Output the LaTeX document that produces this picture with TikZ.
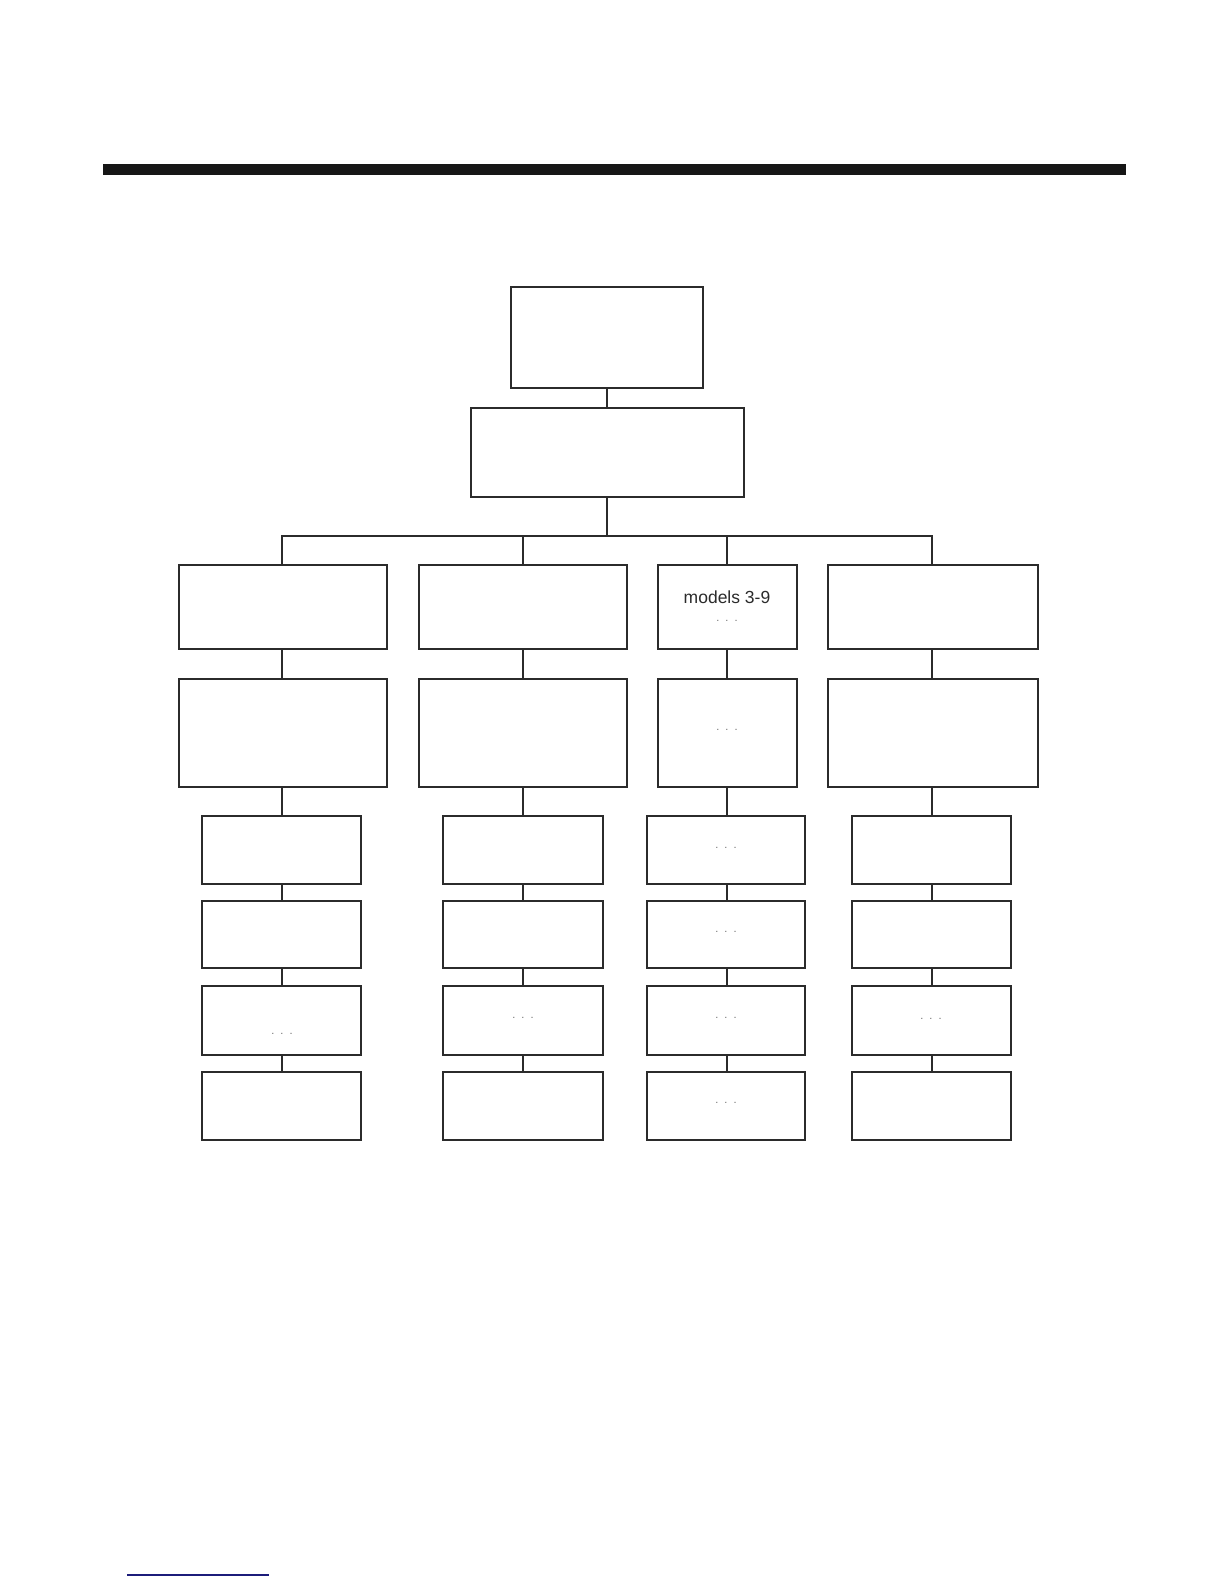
\documentclass[tikz,border=0pt]{standalone}
\usepackage{fontspec}
\setmainfont{Liberation Sans}
\definecolor{ink}{HTML}{2B2B2B}
\definecolor{bar}{HTML}{161616}
\definecolor{dotgray}{HTML}{707070}
\definecolor{navy}{HTML}{1C1C7A}
\begin{document}
\begin{tikzpicture}[x=1pt,y=-1pt,
  box/.style={draw=ink,line width=1.8pt,rectangle,inner sep=0pt,outer sep=0pt,fill=white},
  conn/.style={draw=ink,line width=1.6pt},
  dots/.style={text=dotgray,font=\fontsize{11}{11}\selectfont,inner sep=0pt},
  label/.style={text=ink,font=\fontsize{17.5}{18}\selectfont,inner sep=0pt,anchor=base}]
\useasboundingbox (0,0) rectangle (1224,1584);
\fill[white] (0,0) rectangle (1224,1584);
% top rule
\fill[bar] (103,164) rectangle (1126,175);
% bottom short rule
\draw[navy,line width=1.2pt] (127,1575) -- (269,1575);
% top boxes
\node[box,minimum width=192pt,minimum height=101pt] (top) at (607,337.5) {};
\node[box,minimum width=273pt,minimum height=89pt] (sec) at (607.5,452.5) {};
% row 3
\node[box,minimum width=208pt,minimum height=84pt] (a3) at (283,607) {};
\node[box,minimum width=208pt,minimum height=84pt] (b3) at (523,607) {};
\node[box,minimum width=139pt,minimum height=84pt] (c3) at (727.5,607) {};
\node[box,minimum width=210pt,minimum height=84pt] (d3) at (933,607) {};
% row 4
\node[box,minimum width=208pt,minimum height=108pt] (a4) at (283,733) {};
\node[box,minimum width=208pt,minimum height=108pt] (b4) at (523,733) {};
\node[box,minimum width=139pt,minimum height=108pt] (c4) at (727.5,733) {};
\node[box,minimum width=210pt,minimum height=108pt] (d4) at (933,733) {};
% rows 5-8
\foreach \r/\yc/\h in {5/850/68,6/934.5/67,7/1020.5/69,8/1106/68}{
  \node[box,minimum width=159pt,minimum height=\h pt] (a\r) at (281.5,\yc) {};
  \node[box,minimum width=160pt,minimum height=\h pt] (b\r) at (523,\yc) {};
  \node[box,minimum width=158pt,minimum height=\h pt] (c\r) at (726,\yc) {};
  \node[box,minimum width=159pt,minimum height=\h pt] (d\r) at (931.5,\yc) {};
}
% bus and column axes
\coordinate (bus) at (607,536);
\coordinate (ax) at (282,0);
\coordinate (bx) at (523,0);
\coordinate (cx) at (727,0);
\coordinate (dx) at (932,0);
% connectors
\draw[conn] (top.south) -- (top.south |- sec.north);
\draw[conn] (bus |- sec.south) -- (bus);
\draw[conn] (ax |- a3.north) |- (bus) -| (dx |- d3.north);
\draw[conn] (bx |- b3.north) -- (bx |- bus);
\draw[conn] (cx |- c3.north) -- (cx |- bus);
\foreach \col in {a,b,c,d}{
  \draw[conn] (\col x |- \col3.south) -- (\col x |- \col4.north);
  \draw[conn] (\col x |- \col4.south) -- (\col x |- \col5.north);
  \draw[conn] (\col x |- \col5.south) -- (\col x |- \col6.north);
  \draw[conn] (\col x |- \col6.south) -- (\col x |- \col7.north);
  \draw[conn] (\col x |- \col7.south) -- (\col x |- \col8.north);
}
% texts
\node[label] (mtxt) at (727,603) {models 3-9};
\node[dots] (c3d) at (727,621) {.\ \ .\ \ .};
\node[dots] (c4d) at (727,730) {.\ \ .\ \ .};
\node[dots] (c5d) at (726,848) {.\ \ .\ \ .};
\node[dots] (c6d) at (726,932) {.\ \ .\ \ .};
\node[dots] (c7d) at (726,1018) {.\ \ .\ \ .};
\node[dots] (c8d) at (726,1103) {.\ \ .\ \ .};
\node[dots] (a7d) at (282,1034) {.\ \ .\ \ .};
\node[dots] (b7d) at (523,1018) {.\ \ .\ \ .};
\node[dots] (d7d) at (931,1019) {.\ \ .\ \ .};
\end{tikzpicture}
\end{document}
